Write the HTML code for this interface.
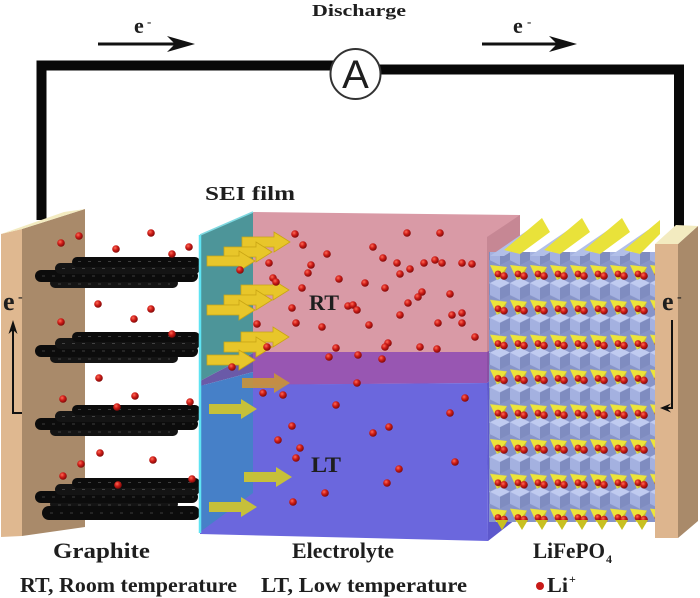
<!DOCTYPE html>
<html><head><meta charset="utf-8"><style>
html,body{margin:0;padding:0;background:#fff;}
svg{display:block;}
svg text{font-family:"Liberation Serif","Times New Roman",Times,serif;font-weight:700;fill:#1e1e1e;}
svg text.sans{font-family:"Liberation Sans",Arial,Helvetica,sans-serif;font-weight:400;}
</style></head><body>
<svg width="700" height="598" viewBox="0 0 700 598" xmlns="http://www.w3.org/2000/svg" xmlns:xlink="http://www.w3.org/1999/xlink" font-family="Liberation Serif, Times New Roman, serif" font-weight="bold">
<defs>
<radialGradient id="rd" cx="0.38" cy="0.35" r="0.7">
<stop offset="0" stop-color="#ff6c58"/><stop offset="0.45" stop-color="#cf1d18"/><stop offset="1" stop-color="#760707"/>
</radialGradient>
<circle id="dt" r="3.8" fill="url(#rd)"/>
<pattern id="cr" x="490" y="262" width="20" height="34.8" patternUnits="userSpaceOnUse">
<rect width="20" height="34.8" fill="#8794c8"/>
<g>
<polygon points="10,16 20,21 20,33 10,38 0,33 0,21" fill="#a4b1e0"/>
<polygon points="0,21 10,16 20,21 10,26" fill="#c0cbf0"/>
<polygon points="20,21 10,26 10,38 20,33" fill="#7f8cc0"/>
</g>
<g transform="translate(0,-34.8)">
<polygon points="10,16 20,21 20,33 10,38 0,33 0,21" fill="#a4b1e0"/>
<polygon points="0,21 10,16 20,21 10,26" fill="#c0cbf0"/>
<polygon points="20,21 10,26 10,38 20,33" fill="#7f8cc0"/>
</g>
<polygon points="0,3 17,5 7,18" fill="#ece43a"/>
<polygon points="7,18 17,5 13,15" fill="#c9bd1e"/>
<circle cx="8" cy="12" r="3.4" fill="url(#rd)"/>
<circle cx="14" cy="14" r="3.8" fill="url(#rd)"/>
</pattern>
<path id="ar" d="M0,0 L-16,-10 L-16,-5 L-48,-5 L-48,5 L-16,5 L-16,10 Z"/>
<g id="gs">
<rect x="50" y="21" width="128" height="10" rx="5" fill="#141414"/>
<rect x="35" y="13" width="163" height="12" rx="6" fill="#0c0c0c"/>
<rect x="55" y="6" width="145" height="11" rx="5.5" fill="#141414"/>
<rect x="72" y="0" width="128" height="10" rx="5" fill="#0c0c0c"/>
<g stroke="#7a7a7a" stroke-width="1" stroke-dasharray="3 7" opacity=".45">
<line x1="78" y1="4.5" x2="196" y2="4.5"/><line x1="62" y1="11.5" x2="196" y2="11.5"/>
<line x1="42" y1="19" x2="194" y2="19"/><line x1="58" y1="27" x2="170" y2="27"/>
</g>
</g>
</defs>

<!-- top texts & wire -->
<text x="312" y="16" font-size="17" textLength="94" lengthAdjust="spacingAndGlyphs">Discharge</text>
<text x="134" y="33" font-size="22">e</text><text x="147" y="26" font-size="13">-</text>
<text x="513" y="33" font-size="22">e</text><text x="527" y="26" font-size="13">-</text>
<line x1="98" y1="44" x2="178" y2="44" stroke="#111" stroke-width="3"/>
<path d="M195,44 L167,36 L175,44 L167,52 Z" fill="#111"/>
<line x1="482" y1="44" x2="560" y2="44" stroke="#111" stroke-width="3"/>
<path d="M577,44 L549,36 L557,44 L549,52 Z" fill="#111"/>
<polyline points="41.5,220 41.5,65.5 335,65.5" fill="none" stroke="#080808" stroke-width="10"/>
<polyline points="378,69.5 679,69.5 679,232" fill="none" stroke="#080808" stroke-width="10"/>
<circle cx="355.5" cy="74" r="25" fill="#fff" stroke="#333" stroke-width="2"/>
<text class="sans" x="355.5" y="88" font-size="40" text-anchor="middle" font-family="Liberation Sans, Arial, sans-serif" font-weight="normal" fill="#111">A</text>

<text x="205" y="200" font-size="20" textLength="90" lengthAdjust="spacingAndGlyphs">SEI film</text>

<!-- left plate -->
<polygon points="22,229 85,209 85,527 22,536" fill="#a98a6a"/>
<polygon points="1,234 22,229 22,536 1,537" fill="#dfb890"/>
<polygon points="1,234 22,229 85,209 64,212" fill="#f3ebc0"/>

<!-- graphite -->
<use xlink:href="#gs" href="#gs" y="257"/>
<use xlink:href="#gs" href="#gs" y="332"/>
<use xlink:href="#gs" href="#gs" y="405"/>
<use xlink:href="#gs" href="#gs" y="478"/>
<rect x="42" y="506" width="158" height="14" rx="7" fill="#0c0c0c"/>
<line x1="50" y1="513" x2="196" y2="513" stroke="#7a7a7a" stroke-dasharray="3 7" opacity=".45"/>

<!-- electrolyte box -->
<polygon points="253,212 520,215 520,330 487,352 253,352" fill="#d99aa6"/>
<polygon points="487,237 520,215 520,330 487,352" fill="#c68794"/>
<polygon points="253,352 487,352 487,383 253,385" fill="#9856b2"/>
<polygon points="487,352 520,330 520,358 487,383" fill="#8a4fa4"/>
<polygon points="200,385 487,383 488,541 200,534" fill="#6b67dd"/>
<polygon points="487,383 520,358 520,516 488,541" fill="#5d58cc"/>
<!-- SEI -->
<polygon points="200,235 253,212 253,353 200,381" fill="#4d9599"/>
<polygon points="200,381 253,353 253,372 200,386" fill="#6a5aa8"/>
<polygon points="200,386 253,372 253,493 200,532" fill="#4680c8"/>
<line x1="200" y1="235" x2="200" y2="533" stroke="#5fe3f2" stroke-width="2.5"/>
<line x1="200" y1="235" x2="253" y2="212" stroke="#7fd8e0" stroke-width="1.5"/>

<!-- arrows -->
<g fill="#e8c62a" stroke="#c9a514" stroke-width="0.8">
<use xlink:href="#ar" href="#ar" x="290" y="242"/><use xlink:href="#ar" href="#ar" x="272" y="252"/><use xlink:href="#ar" href="#ar" x="255" y="261"/>
<use xlink:href="#ar" href="#ar" x="289" y="290"/><use xlink:href="#ar" href="#ar" x="272" y="300"/><use xlink:href="#ar" href="#ar" x="255" y="310"/>
<use xlink:href="#ar" href="#ar" x="289" y="337"/><use xlink:href="#ar" href="#ar" x="272" y="347"/><use xlink:href="#ar" href="#ar" x="255" y="360"/>
</g>
<use xlink:href="#ar" href="#ar" x="290" y="383" fill="#c99438" opacity=".9"/>
<g fill="#c6c03a">
<use xlink:href="#ar" href="#ar" x="257" y="409"/><use xlink:href="#ar" href="#ar" x="292" y="477"/><use xlink:href="#ar" href="#ar" x="257" y="507"/>
</g>

<text x="309" y="310" font-size="22" textLength="30" lengthAdjust="spacingAndGlyphs">RT</text>
<text x="311" y="472" font-size="22" textLength="30" lengthAdjust="spacingAndGlyphs">LT</text>

<!-- crystal -->
<rect x="489" y="252" width="168" height="270" fill="url(#cr)"/>
<g>
<polygon points="490,256 528,230 540,234 504,256" fill="#b2bfe8"/>
<polygon points="504,250 542,218 550,232 520,254" fill="#e9e23a"/>
<polygon points="530,256 568,230 580,234 544,256" fill="#b2bfe8"/>
<polygon points="544,250 582,218 590,232 560,254" fill="#e9e23a"/>
<polygon points="570,256 608,230 620,234 584,256" fill="#b2bfe8"/>
<polygon points="584,250 622,218 630,232 600,254" fill="#e9e23a"/>
<polygon points="610,256 648,230 658,234 624,256" fill="#b2bfe8"/>
<polygon points="624,250 660,220 660,234 640,254" fill="#e9e23a"/>
</g>
<g fill="#c8c020">
<polygon points="496,520 508,520 502,530"/><polygon points="516,520 528,520 522,530"/>
<polygon points="536,520 548,520 542,530"/><polygon points="556,520 568,520 562,530"/>
<polygon points="576,520 588,520 582,530"/><polygon points="596,520 608,520 602,530"/>
<polygon points="616,520 628,520 622,530"/><polygon points="636,520 648,520 642,530"/>
</g>

<!-- right plate -->
<polygon points="678,244 698,226 698,521 678,538" fill="#a98a6a"/>
<polygon points="655,244 678,244 678,538 655,538" fill="#ddb58e"/>
<polygon points="655,244 678,244 698,226 676,225" fill="#f3ebc0"/>

<!-- plate e- arrows -->
<text x="3" y="310" font-size="26">e</text><text x="18" y="301" font-size="14">-</text>
<polyline points="22,413 13,413 13,330" fill="none" stroke="#111" stroke-width="2"/>
<polygon points="13,320 8.5,334 13,330 17.5,334" fill="#111"/>
<text x="662" y="310" font-size="26">e</text><text x="677" y="301" font-size="14">-</text>
<polyline points="672,320 672,408 665,408" fill="none" stroke="#111" stroke-width="2"/>
<polygon points="660,408 671,403.5 667,408 671,412.5" fill="#111"/>

<!-- dots -->
<g>
<use href="#dt" xlink:href="#dt" x="61" y="243"/><use href="#dt" xlink:href="#dt" x="79" y="236"/><use href="#dt" xlink:href="#dt" x="151" y="233"/><use href="#dt" xlink:href="#dt" x="116" y="249"/><use href="#dt" xlink:href="#dt" x="172" y="254"/><use href="#dt" xlink:href="#dt" x="189" y="247"/><use href="#dt" xlink:href="#dt" x="98" y="304"/><use href="#dt" xlink:href="#dt" x="151" y="309"/><use href="#dt" xlink:href="#dt" x="134" y="319"/><use href="#dt" xlink:href="#dt" x="61" y="322"/><use href="#dt" xlink:href="#dt" x="172" y="334"/><use href="#dt" xlink:href="#dt" x="99" y="378"/><use href="#dt" xlink:href="#dt" x="63" y="399"/><use href="#dt" xlink:href="#dt" x="135" y="396"/><use href="#dt" xlink:href="#dt" x="117" y="407"/><use href="#dt" xlink:href="#dt" x="190" y="402"/><use href="#dt" xlink:href="#dt" x="100" y="453"/><use href="#dt" xlink:href="#dt" x="81" y="464"/><use href="#dt" xlink:href="#dt" x="153" y="460"/><use href="#dt" xlink:href="#dt" x="63" y="476"/><use href="#dt" xlink:href="#dt" x="118" y="485"/><use href="#dt" xlink:href="#dt" x="192" y="479"/>
<use href="#dt" xlink:href="#dt" x="295" y="234"/><use href="#dt" xlink:href="#dt" x="303" y="245"/><use href="#dt" xlink:href="#dt" x="327" y="254"/><use href="#dt" xlink:href="#dt" x="269" y="263"/><use href="#dt" xlink:href="#dt" x="311" y="265"/><use href="#dt" xlink:href="#dt" x="308" y="273"/><use href="#dt" xlink:href="#dt" x="339" y="279"/><use href="#dt" xlink:href="#dt" x="273" y="278"/><use href="#dt" xlink:href="#dt" x="276" y="282"/><use href="#dt" xlink:href="#dt" x="302" y="288"/><use href="#dt" xlink:href="#dt" x="292" y="308"/><use href="#dt" xlink:href="#dt" x="348" y="306"/><use href="#dt" xlink:href="#dt" x="257" y="324"/><use href="#dt" xlink:href="#dt" x="296" y="323"/><use href="#dt" xlink:href="#dt" x="322" y="327"/><use href="#dt" xlink:href="#dt" x="267" y="347"/><use href="#dt" xlink:href="#dt" x="336" y="348"/><use href="#dt" xlink:href="#dt" x="329" y="357"/><use href="#dt" xlink:href="#dt" x="263" y="393"/><use href="#dt" xlink:href="#dt" x="283" y="395"/><use href="#dt" xlink:href="#dt" x="336" y="405"/><use href="#dt" xlink:href="#dt" x="292" y="426"/><use href="#dt" xlink:href="#dt" x="278" y="440"/><use href="#dt" xlink:href="#dt" x="300" y="448"/><use href="#dt" xlink:href="#dt" x="296" y="458"/><use href="#dt" xlink:href="#dt" x="325" y="493"/><use href="#dt" xlink:href="#dt" x="293" y="502"/><use href="#dt" xlink:href="#dt" x="240" y="270"/><use href="#dt" xlink:href="#dt" x="232" y="367"/>
<use href="#dt" xlink:href="#dt" x="407" y="233"/><use href="#dt" xlink:href="#dt" x="440" y="233"/><use href="#dt" xlink:href="#dt" x="373" y="247"/><use href="#dt" xlink:href="#dt" x="383" y="258"/><use href="#dt" xlink:href="#dt" x="397" y="263"/><use href="#dt" xlink:href="#dt" x="410" y="269"/><use href="#dt" xlink:href="#dt" x="400" y="274"/><use href="#dt" xlink:href="#dt" x="424" y="263"/><use href="#dt" xlink:href="#dt" x="435" y="260"/><use href="#dt" xlink:href="#dt" x="442" y="263"/><use href="#dt" xlink:href="#dt" x="462" y="263"/><use href="#dt" xlink:href="#dt" x="472" y="264"/><use href="#dt" xlink:href="#dt" x="365" y="283"/><use href="#dt" xlink:href="#dt" x="385" y="288"/><use href="#dt" xlink:href="#dt" x="422" y="292"/><use href="#dt" xlink:href="#dt" x="418" y="297"/><use href="#dt" xlink:href="#dt" x="450" y="294"/><use href="#dt" xlink:href="#dt" x="408" y="303"/><use href="#dt" xlink:href="#dt" x="353" y="305"/><use href="#dt" xlink:href="#dt" x="357" y="310"/><use href="#dt" xlink:href="#dt" x="452" y="315"/><use href="#dt" xlink:href="#dt" x="462" y="313"/><use href="#dt" xlink:href="#dt" x="400" y="315"/><use href="#dt" xlink:href="#dt" x="369" y="325"/><use href="#dt" xlink:href="#dt" x="438" y="323"/><use href="#dt" xlink:href="#dt" x="462" y="323"/><use href="#dt" xlink:href="#dt" x="475" y="337"/><use href="#dt" xlink:href="#dt" x="388" y="343"/><use href="#dt" xlink:href="#dt" x="385" y="347"/><use href="#dt" xlink:href="#dt" x="420" y="347"/><use href="#dt" xlink:href="#dt" x="437" y="349"/><use href="#dt" xlink:href="#dt" x="358" y="355"/><use href="#dt" xlink:href="#dt" x="382" y="359"/><use href="#dt" xlink:href="#dt" x="357" y="383"/><use href="#dt" xlink:href="#dt" x="465" y="398"/><use href="#dt" xlink:href="#dt" x="450" y="413"/><use href="#dt" xlink:href="#dt" x="389" y="427"/><use href="#dt" xlink:href="#dt" x="373" y="433"/><use href="#dt" xlink:href="#dt" x="455" y="462"/><use href="#dt" xlink:href="#dt" x="399" y="469"/><use href="#dt" xlink:href="#dt" x="387" y="483"/>
</g>

<!-- bottom labels -->
<text x="53" y="558" font-size="22" textLength="97" lengthAdjust="spacingAndGlyphs">Graphite</text>
<text x="292" y="558" font-size="22" textLength="102" lengthAdjust="spacingAndGlyphs">Electrolyte</text>
<text x="533" y="558" font-size="22" textLength="72" lengthAdjust="spacingAndGlyphs">LiFePO</text>
<text x="606" y="563" font-size="12">4</text>
<text x="20" y="592" font-size="21" textLength="217" lengthAdjust="spacingAndGlyphs">RT, Room temperature</text>
<text x="261" y="592" font-size="21" textLength="206" lengthAdjust="spacingAndGlyphs">LT, Low temperature</text>
<circle cx="540" cy="586" r="4" fill="#c81a18"/>
<text x="547" y="592" font-size="21" textLength="21" lengthAdjust="spacingAndGlyphs">Li</text>
<text x="569" y="583" font-size="12">+</text>
</svg>
</body></html>
